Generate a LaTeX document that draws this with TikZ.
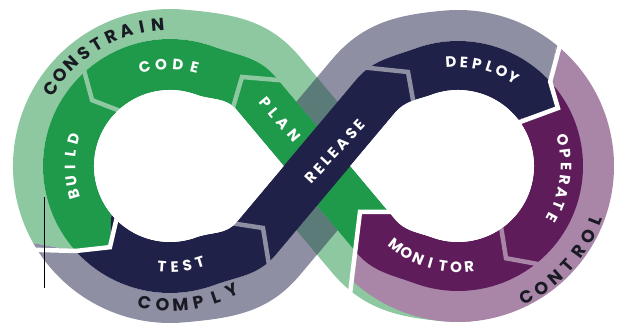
\documentclass[tikz,border=0pt]{standalone}
\usepackage{fontspec}
\newfontfamily\lblfont{Poppins}
\usetikzlibrary{calc}
\definecolor{lgreen}{HTML}{8DC8A0}
\definecolor{dgreen}{HTML}{1E9A4A}
\definecolor{greyb}{HTML}{8E8FA3}
\definecolor{tealx}{HTML}{5B7B79}
\definecolor{navyx}{HTML}{1F2148}
\definecolor{dpurple}{HTML}{5E1C5B}
\definecolor{lpurple}{HTML}{A986A7}
\definecolor{textdark}{HTML}{1A1A24}
% point in the strip frame: s1 across PLAN strip, s2 across RELEASE strip
\newcommand{\spt}[3]{\coordinate (#1) at ($(M)+({((#2)+(#3))/1.53209},{((#2)-(#3))/1.28558})$);}
\newcommand{\arcword}[8]{%
  \foreach \ch [count=\i from 0] in {#8} {%
    \pgfmathsetmacro{\wang}{#4+\i*(#5)}%
    \pgfmathsetmacro{\wrot}{\wang+(#6)}%
    \node[#7, rotate=\wrot] (#1\i) at ($(#2)+(\wang:#3)$) {\ch};
  }}
\tikzset{
  lbl/.style={font=\lblfont\bfseries\fontsize{15}{15}\selectfont, text=white, inner sep=0pt},
  olbl/.style={font=\lblfont\bfseries\fontsize{17.5}{17.5}\selectfont, text=textdark, inner sep=0pt},
  sep/.style={line width=4.5pt, line join=miter, line cap=butt},
}
\begin{document}
\begin{tikzpicture}[x=1pt,y=1pt]
\useasboundingbox (0,0) rectangle (625,323);
\coordinate (CL) at (170,157);
\coordinate (CR) at (458,157);
\coordinate (M) at (317,157);
% transition points (loop arc -> straight strip)
\coordinate (LPo_a) at ($(CL)+(85:157)$);  \coordinate (LPo_f) at ($(CL)+(40:169.6)$);
\coordinate (LPm_a) at ($(CL)+(70:127)$);  \coordinate (LPm_f) at ($(CL)+(40:138.1)$);
\coordinate (LPi_a) at ($(CL)+(70:76)$);   \coordinate (LPi_f) at ($(CL)+(40:87.1)$);
\coordinate (LRo_a) at ($(CL)+(-85:157)$); \coordinate (LRo_f) at ($(CL)+(-40:169.6)$);
\coordinate (LRm_a) at ($(CL)+(-70:127)$); \coordinate (LRm_f) at ($(CL)+(-40:138.1)$);
\coordinate (LRi_a) at ($(CL)+(-70:76)$);  \coordinate (LRi_f) at ($(CL)+(-40:87.1)$);
\coordinate (RRo_a) at ($(CR)+(95:156)$);  \coordinate (RRo_f) at ($(CR)+(140:165)$);
\coordinate (RRm_a) at ($(CR)+(110:125)$); \coordinate (RRm_f) at ($(CR)+(140:133.5)$);
\coordinate (RRi_a) at ($(CR)+(110:76)$);  \coordinate (RRi_f) at ($(CR)+(140:82.5)$);
\coordinate (RPo_a) at ($(CR)+(265:156)$); \coordinate (RPo_f) at ($(CR)+(220:165)$);
\coordinate (RPm_a) at ($(CR)+(250:125)$); \coordinate (RPm_f) at ($(CR)+(220:133.5)$);
\coordinate (RPi_a) at ($(CR)+(250:76)$);  \coordinate (RPi_f) at ($(CR)+(220:82.5)$);
% strip frame points
\spt{sLG1}{57}{5}\spt{sLG2}{-57}{5}\spt{sLG3}{-25.5}{-5}\spt{sLG4}{25.5}{-5}
\spt{sGY1}{5}{25.5}\spt{sGY2}{5}{-25.5}\spt{sGY3}{-5}{-57}\spt{sGY4}{-5}{57}
\spt{tA}{25.5}{-25.5}\spt{tB}{57}{-25.5}\spt{tC}{57}{-57}\spt{tD}{25.5}{-57}
\spt{bA}{-25.5}{25.5}\spt{bB}{-57}{25.5}\spt{bC}{-57}{57}\spt{bD}{-25.5}{57}
\spt{holeL}{-25.5}{-25.5}\spt{holeR}{25.5}{25.5}
% MONITOR/PLAN junction
\coordinate (hI) at (400,111);
\coordinate (hIe) at (388.9,111);
\coordinate (hV) at (360,111);
\coordinate (hA) at (355.2,71.9);
\coordinate (hO) at (349,21);
% outer bands
\fill[lgreen] ($(CL)+(222:127)$) -- ($(CL)+(209.4:157)$) arc[start angle=209.4,end angle=85,radius=157]
  to[out=-5,in=130] (LPo_f) -- (sLG1) -- (sLG2) -- (RPo_f) to[out=-50,in=175] (RPo_a)
  arc[start angle=265,end angle=275,radius=156] -- ($(CR)+(275:125)$) arc[start angle=275,end angle=250,radius=125]
  to[out=160,in=-50] (RPm_f) -- (sLG3) -- (sLG4) -- (LPm_f) to[out=130,in=-20] (LPm_a)
  arc[start angle=70,end angle=222,radius=127] -- cycle;
\fill[greyb] ($(CL)+(209.4:157)$) -- ($(CL)+(222:127)$) arc[start angle=222,end angle=290,radius=127]
  to[out=20,in=230] (LRm_f) -- (sGY1) -- (sGY2) -- (RRm_f) to[out=50,in=200] (RRm_a)
  arc[start angle=110,end angle=42.5,radius=125] -- ($(CR)+(51:156)$) arc[start angle=51,end angle=95,radius=156]
  to[out=185,in=50] (RRo_f) -- (sGY3) -- (sGY4) -- (LRo_f) to[out=230,in=5] (LRo_a)
  arc[start angle=-85,end angle=-150.6,radius=157] -- cycle;
\fill[tealx] (tA) -- (tB) -- (tC) -- (tD) -- cycle;
\fill[tealx] (bA) -- (bB) -- (bC) -- (bD) -- cycle;
\fill[lpurple] ($(CR)+(42.5:125)$) -- ($(CR)+(51:156)$) arc[start angle=51,end angle=-133,radius=156]
  -- (hA) -- ($(CR)+(-125:110)$) arc[start angle=-125,end angle=42.5,radius=110] -- cycle;
% dark bands
\fill[dgreen] ($(CL)+(219.5:76)$) -- ($(CL)+(233.5:101)$) -- ($(CL)+(222:127)$) arc[start angle=222,end angle=70,radius=127]
  to[out=-20,in=130] (LPm_f) -- (RPi_f) -- (RPm_f) -- (LPi_f) to[out=130,in=-20] (LPi_a)
  arc[start angle=70,end angle=219.5,radius=76] -- cycle;
\fill[navyx] ($(CL)+(219.5:76)$) -- ($(CL)+(233.5:101)$) -- ($(CL)+(222:127)$) arc[start angle=222,end angle=290,radius=127]
  to[out=20,in=230] (LRm_f) -- (RRi_f) to[out=50,in=200] (RRi_a) arc[start angle=110,end angle=37.7,radius=76]
  -- ($(CR)+(30.1:115.5)$) -- ($(CR)+(42.5:125)$) arc[start angle=42.5,end angle=110,radius=125]
  to[out=200,in=50] (RRm_f) -- (LRi_f) to[out=230,in=20] (LRi_a) arc[start angle=-70,end angle=-140.5,radius=76] -- cycle;
\fill[dpurple] ($(CR)+(37.7:76)$) -- ($(CR)+(30.1:115.5)$) -- ($(CR)+(42.5:125)$) arc[start angle=42.5,end angle=-110,radius=125]
  to[out=160,in=-50] (RPm_f) -- (hA) -- (hV) -- (hIe) -- (RPi_f) to[out=-50,in=160] (RPi_a)
  arc[start angle=-110,end angle=37.7,radius=76] -- cycle;
% separators between the arrows
\coordinate (sA1) at (232,212); \coordinate (sA2) at (242,246); \coordinate (sA3) at (290,242);
\coordinate (sD1) at (224,101); \coordinate (sD2) at (263,95);  \coordinate (sD3) at (270,52);
\coordinate (sE1) at (415,212); \coordinate (sE2) at (408,251); \coordinate (sE3) at (360,256);
\draw[sep, lgreen] (sA1) -- (sA2) -- (sA3);
\draw[sep, lgreen] ($(CL)+(130:138)$) -- ($(CL)+(139.8:102)$) -- ($(CL)+(128.5:66)$);
\draw[sep, white] ($(CL)+(209.4:170)$) -- ($(CL)+(222:127)$) -- ($(CL)+(233.5:101)$) -- ($(CL)+(219.5:66)$);
\draw[sep, greyb] (sD1) -- (sD2) -- (sD3);
\draw[sep, greyb] (sE1) -- (sE2) -- (sE3);
\draw[sep, white] ($(CR)+(52:172)$) -- ($(CR)+(42.5:125)$) -- ($(CR)+(30.1:115.5)$) -- ($(CR)+(37.7:66)$);
\draw[sep, lpurple] ($(CR)+(-47.5:136)$) -- ($(CR)+(-62.5:104)$) -- ($(CR)+(-51:66)$);
\draw[sep, white] (hI) -- (hV) -- (hA) -- (hO);
% holes
\fill[white] (LPi_a) arc[start angle=70,end angle=290,radius=76] to[out=20,in=230] (LRi_f) -- (holeL) -- (LPi_f) to[out=130,in=-20] (LPi_a) -- cycle;
\fill[white] (RRi_a) arc[start angle=110,end angle=-110,radius=76] to[out=160,in=-50] (RPi_f) -- (holeR) -- (RRi_f) to[out=50,in=200] (RRi_a) -- cycle;
% labels
\arcword{cs}{CL}{142}{147}{-6.5}{-90}{olbl}{C,O,N,S,T,R,A,I,N}
\arcword{cd}{CL}{102}{104.5}{-9.5}{-90}{lbl}{C,O,D,E}
\arcword{bd}{CL}{100}{196.5}{-8}{-90}{lbl}{B,U,I,L,D}
\arcword{ts}{CL}{101}{265.5}{7.2}{90}{lbl}{T,E,S,T}
\arcword{cp}{CL}{139}{259.5}{7.4}{90}{olbl}{C,O,M,P,L,Y}
\arcword{dp}{CR}{104}{93.9}{-7.2}{-90}{lbl}{D,E,P,L,O,Y}
\arcword{op}{CR}{108}{13.8}{-7.1}{-90}{lbl}{O,P,E,R,A,T,E}
\arcword{mn}{CR}{101}{231.9}{7.4}{90}{lbl}{M,O,N,I,T,O,R}
\arcword{ct}{CR}{148}{297.5}{6.8}{90}{olbl}{C,O,N,T,R,O,L}
\node[lbl, rotate=47] (release) at (335,171.5) {R\kern3.2pt E\kern3.2pt L\kern3.2pt E\kern3.2pt A\kern3.2pt S\kern3.2pt E};
\node[lbl, rotate=-50] (plan) at (280,203.5) {P\kern5pt L\kern5pt A\kern5pt N};
% stray line
\coordinate (ln1) at (44,126);
\coordinate (ln2) at (44,35);
\draw[line width=0.9pt, black] (ln1) -- (ln2);
\end{tikzpicture}
\end{document}
